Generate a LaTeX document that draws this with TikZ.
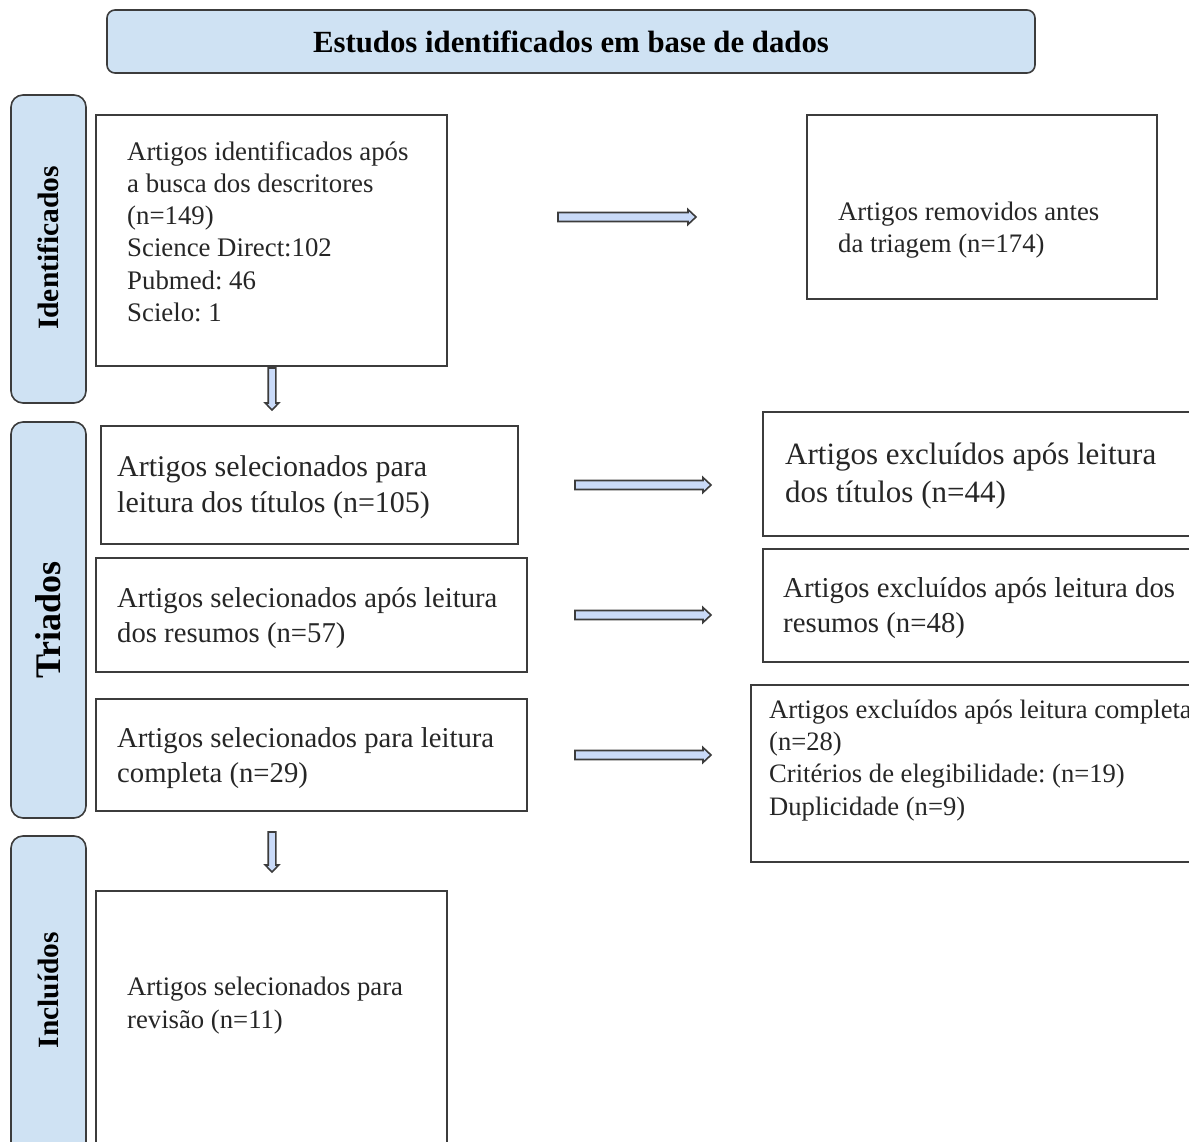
\documentclass[tikz,border=0pt]{standalone}
\usepackage{fontspec}
\setmainfont{Liberation Serif}
\usetikzlibrary{calc}
\definecolor{labelblue}{HTML}{CFE2F3}
\definecolor{arrowblue}{HTML}{C9DAF8}
\definecolor{edgegray}{HTML}{3C3C3C}
\newcommand{\fsz}[2]{\fontsize{#1}{#2}\selectfont}
\newcommand{\topstrut}{\rule{0pt}{0.8em}}
\newcommand{\hflow}[2]{\draw[flowarrow] ($(#1)+(0,-4.5)$) -- ($(#2)+(-8,-4.5)$) -- ($(#2)+(-8,-7.5)$) -- (#2) -- ($(#2)+(-8,7.5)$) -- ($(#2)+(-8,4.5)$) -- ($(#1)+(0,4.5)$) -- cycle;}
\newcommand{\vflow}[2]{\draw[flowarrow] ($(#1)+(-3.8,0)$) -- ($(#2)+(-3.8,-7)$) -- ($(#2)+(-6.8,-7)$) -- (#2) -- ($(#2)+(6.8,-7)$) -- ($(#2)+(3.8,-7)$) -- ($(#1)+(3.8,0)$) -- cycle;}
\frenchspacing
\begin{document}
\begin{tikzpicture}[x=1pt,y=-1pt,
  flowbox/.style={draw=edgegray, line width=1.6pt, fill=white, inner sep=0pt},
  sidebox/.style={draw=edgegray, line width=1.6pt, fill=labelblue, rounded corners=12pt, inner sep=0pt},
  boxtext/.style={anchor=north west, inner sep=0pt, align=left, text=black!85},
  sidelabel/.style={rotate=90, inner sep=0pt, font=\bfseries},
  flowarrow/.style={draw=edgegray, fill=arrowblue, line width=1.6pt, line join=miter}]
\useasboundingbox (0,0) rectangle (1189,1142);
\clip (0,0) rectangle (1189,1142);

% title
\node[sidebox, rounded corners=8pt, minimum width=928pt, minimum height=63pt, font=\fsz{30.8}{37}\bfseries] (title) at (571,41.5) {Estudos identificados em base de dados};

% side boxes
\node[sidebox, minimum width=75pt, minimum height=308pt] (sideI) at (48.5,249) {};
\node[sidebox, minimum width=75pt, minimum height=396pt] (sideT) at (48.5,620) {};
\node[sidebox, minimum width=75pt, minimum height=324pt] (sideC) at (48.5,998) {};
\node[sidelabel, font=\fsz{29.5}{35}\bfseries] (labI) at (48.5,248) {Identificados};
\node[sidelabel, font=\fsz{36}{43}\bfseries] (labT) at (48.5,620) {Triados};
\node[sidelabel, font=\fsz{29.4}{35}\bfseries] (labC) at (48.5,990) {Incluídos};

% boxes
\node[flowbox, minimum width=351pt, minimum height=251pt] (b1) at (271.5,240.5) {};
\node[flowbox, minimum width=350pt, minimum height=184pt] (rem) at (982,207) {};
\node[flowbox, minimum width=417pt, minimum height=118pt] (b2) at (309.5,485) {};
\node[flowbox, minimum width=437pt, minimum height=124pt] (e1) at (981.5,474) {};
\node[flowbox, minimum width=431pt, minimum height=114pt] (b3) at (311.5,615) {};
\node[flowbox, minimum width=437pt, minimum height=113pt] (e2) at (981.5,605.5) {};
\node[flowbox, minimum width=431pt, minimum height=112pt] (b4) at (311.5,755) {};
\node[flowbox, minimum width=449pt, minimum height=177pt] (e3) at (975.5,773.5) {};
\node[flowbox, minimum width=351pt, minimum height=269pt] (b5) at (271.5,1025.5) {};

% texts
\node[boxtext, font=\fsz{26.8}{32.2}] (t1) at (127,138.6) {\topstrut Artigos identificados após\\a busca dos descritores\\(n=149)\\Science Direct:102\\Pubmed: 46\\Scielo: 1};
\node[boxtext, font=\fsz{26.7}{32}] (trem) at (838,198.6) {\topstrut Artigos removidos antes\\da triagem (n=174)};
\node[boxtext, font=\fsz{30}{36}] (t2) at (117,452) {\topstrut Artigos selecionados para\\leitura dos títulos (n=105)};
\node[boxtext, font=\fsz{31}{38}] (te1) at (785,439.2) {\topstrut Artigos excluídos após leitura\\dos títulos (n=44)};
\node[boxtext, font=\fsz{28.7}{35}] (t3) at (117,584) {\topstrut Artigos selecionados após leitura\\dos resumos (n=57)};
\node[boxtext, font=\fsz{28.8}{35}] (te2) at (783,574) {\topstrut Artigos excluídos após leitura dos\\resumos (n=48)};
\node[boxtext, font=\fsz{28.7}{35}] (t4) at (117,724) {\topstrut Artigos selecionados para leitura\\completa (n=29)};
\node[boxtext, font=\fsz{26.6}{32.3}] (te3) at (769,696.7) {\topstrut Artigos excluídos após leitura completa\\(n=28)\\Critérios de elegibilidade: (n=19)\\Duplicidade (n=9)};
\node[boxtext, font=\fsz{26.7}{33}] (t5) at (127,973.6) {\topstrut Artigos selecionados para\\revisão (n=11)};

% arrows
\coordinate (a1s) at (558,217); \coordinate (a1e) at (696,217);
\coordinate (a2s) at (575,485); \coordinate (a2e) at (711,485);
\coordinate (a3s) at (575,615); \coordinate (a3e) at (711,615);
\coordinate (a4s) at (575,755); \coordinate (a4e) at (711,755);
\coordinate (d1s) at (272,368); \coordinate (d1e) at (272,410);
\coordinate (d2s) at (272,832); \coordinate (d2e) at (272,872);
\hflow{a1s}{a1e}
\hflow{a2s}{a2e}
\hflow{a3s}{a3e}
\hflow{a4s}{a4e}
\vflow{d1s}{d1e}
\vflow{d2s}{d2e}
\end{tikzpicture}
\end{document}
